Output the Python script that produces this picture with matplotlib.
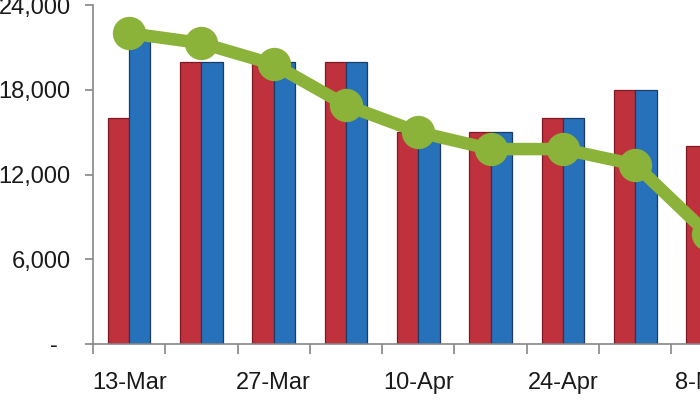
import matplotlib
matplotlib.use("Agg")
import matplotlib.pyplot as plt
import numpy as np
from matplotlib.ticker import FixedLocator, NullFormatter

dates = ["13-Mar", "20-Mar", "27-Mar", "3-Apr", "10-Apr", "17-Apr", "24-Apr", "1-May", "8-May"]
red_vals = [16000, 20000, 20000, 20000, 15000, 15000, 16000, 18000, 14000]
blue_vals = [21500, 20000, 20000, 20000, 15000, 15000, 16000, 18000, 14000]
line_vals = [22000, 21300, 19800, 16900, 15000, 13800, 13800, 12700, 7800]
y_ticks = [0, 6000, 12000, 18000, 24000]
y_labels = ["-  ", "6,000", "12,000", "18,000", "24,000"]

plt.rcParams['font.family'] = ['Liberation Sans', 'DejaVu Sans']

fig = plt.figure(figsize=(7, 4), dpi=100)
n = len(dates)
cat_px = 72.3
ax = fig.add_axes([93 / 700, 56 / 400, n * cat_px / 700, 339 / 400])

x = np.arange(n)
bw = 0.295
ax.bar(x - bw, red_vals, width=bw, align='edge', color='#C0313E',
       edgecolor='#7E1A24', linewidth=0.9, zorder=2)
ax.bar(x, blue_vals, width=bw, align='edge', color='#2671BA',
       edgecolor='#1C3C66', linewidth=0.9, zorder=2)
ax.plot(x, line_vals, color='#8BB33A', linewidth=9, marker='o',
        markersize=24, markeredgewidth=0, solid_capstyle='round', zorder=3)

ax.set_xlim(-0.5, n - 0.5)
ax.set_ylim(0, 24000)

ax.set_yticks(y_ticks)
ax.set_yticklabels(y_labels)

ax.xaxis.set_major_locator(FixedLocator(np.arange(n + 1) - 0.5))
ax.xaxis.set_major_formatter(NullFormatter())
ax.xaxis.set_minor_locator(FixedLocator(x[::2]))
ax.set_xticklabels([dates[i] for i in range(0, n, 2)], minor=True)

for s in ['top', 'right']:
    ax.spines[s].set_visible(False)
for s in ['left', 'bottom']:
    ax.spines[s].set_color('#868686')
    ax.spines[s].set_linewidth(1.2)

ax.tick_params(axis='y', direction='out', length=6, width=1.2, color='#868686',
               labelsize=17, pad=10, labelcolor='#1a1a1a')
ax.tick_params(axis='x', which='major', direction='out', length=7.5, width=1.2,
               color='#868686')
ax.tick_params(axis='x', which='minor', length=0, labelsize=17, pad=20,
               labelcolor='#1a1a1a')

fig.savefig("out.png", dpi=100)
